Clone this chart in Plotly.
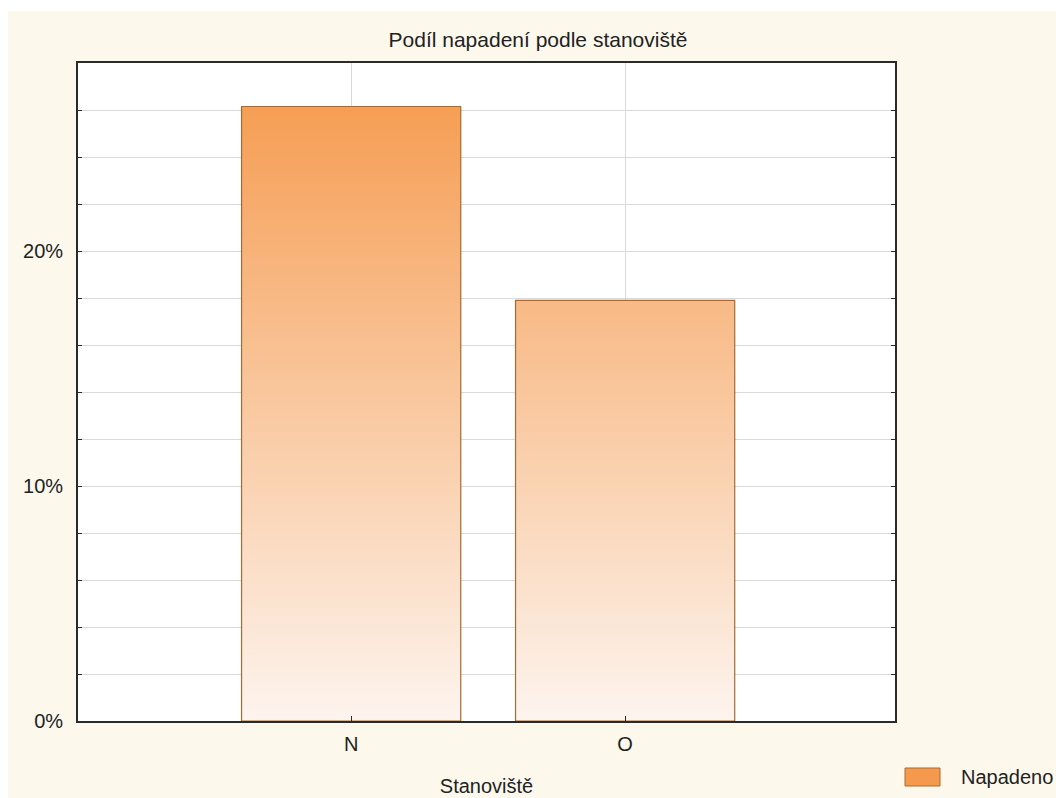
import plotly.graph_objects as go

# --- data ---
categories = ["N", "O"]
napadeno_pct = [26.15, 17.9]
series_name = "Napadeno"
chart_title = "Podíl napadení podle stanoviště"
x_axis_title = "Stanoviště"

# --- layout constants ---
W, H = 1056, 798
ML, MR, MT, MB = 78, 161, 63, 77
Y_MAX = 28
BAR_HALF = 0.4
CREAM = "#FDF8EC"
FONT = "Liberation Sans, Arial, sans-serif"
GRAD = [[0, "#FDF4EE"], [1, "#F5984A"]]
EDGE = "#A86A35"
INK = "#222222"

fig = go.Figure()

# bars drawn as filled polygons so they can carry a vertical gradient
for i, (cat, val) in enumerate(zip(categories, napadeno_pct)):
    xs = [i - BAR_HALF, i + BAR_HALF, i + BAR_HALF, i - BAR_HALF, i - BAR_HALF]
    ys = [0, 0, val, val, 0]
    fig.add_trace(go.Scatter(
        x=xs, y=ys, mode="lines", fill="toself",
        fillgradient=dict(type="vertical", colorscale=GRAD, start=0, stop=Y_MAX),
        line=dict(color=EDGE, width=1.2),
        name=cat, showlegend=False, hoverinfo="skip",
    ))

fig.update_layout(
    width=W, height=H,
    margin=dict(l=ML, r=MR, t=MT, b=MB),
    paper_bgcolor=CREAM, plot_bgcolor="white",
    font=dict(family=FONT, size=20, color=INK),
    title=dict(text=chart_title, x=538 / W, xref="container", xanchor="center",
               y=1 - 40 / H, yref="container", yanchor="middle",
               font=dict(size=21, color=INK)),
    showlegend=False,
)

fig.update_xaxes(
    range=[-0.997, 1.985],
    tickvals=list(range(len(categories))), ticktext=categories,
    showgrid=True, gridcolor="#D9D9D9", gridwidth=1,
    showline=True, linecolor="#2A2A2A", linewidth=1.8, mirror=True,
    ticks="inside", ticklen=5, tickcolor="#2A2A2A",
    ticklabelstandoff=4,
    zeroline=False, automargin=False,
    title=dict(text=x_axis_title, standoff=25, font=dict(size=20, color=INK)),
)

fig.update_yaxes(
    range=[0, Y_MAX],
    tick0=0, dtick=10, ticksuffix="%",
    showgrid=True, gridcolor="#D9D9D9", gridwidth=1,
    minor=dict(dtick=2, showgrid=True, gridcolor="#D9D9D9", ticks="inside",
               ticklen=4, tickcolor="#2A2A2A"),
    showline=True, linecolor="#2A2A2A", linewidth=1.8, mirror="ticks",
    ticks="inside", ticklen=4, tickcolor="#2A2A2A",
    ticklabelstandoff=9,
    zeroline=False, automargin=False,
)

# white page strips at the top and left edges
fig.add_shape(type="rect", xref="paper", yref="paper", x0=-1, x1=2,
              y0=(H - MB - 11) / (H - MT - MB), y1=2,
              fillcolor="white", line_width=0, layer="below")
fig.add_shape(type="rect", xref="paper", yref="paper", x0=-1,
              x1=(8 - ML) / (W - ML - MR), y0=-1, y1=2,
              fillcolor="white", line_width=0, layer="below")

# legend key
fig.add_shape(type="rect", xref="paper", yref="paper",
              xsizemode="pixel", xanchor=1, x0=10, x1=45,
              ysizemode="pixel", yanchor=0, y0=-65, y1=-47,
              fillcolor="#F5994D", line=dict(color=EDGE, width=1))
fig.add_annotation(text=series_name, xref="paper", yref="paper", x=1, y=0,
                   xshift=64, yshift=-56, xanchor="left", yanchor="middle",
                   showarrow=False, font=dict(size=20, color=INK))

fig.write_html("out.html")
